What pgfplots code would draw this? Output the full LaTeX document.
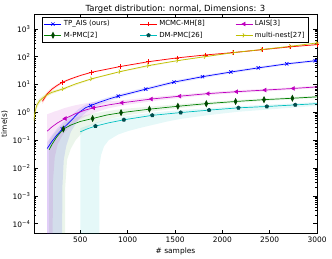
\documentclass[border=0pt]{standalone}
\usepackage{fontspec}
\setmainfont{DejaVu Sans}
\usepackage{pgfplots}
\pgfplotsset{compat=1.18}
\usepackage{pgfplotstable}
\usepgfplotslibrary{fillbetween}
\usetikzlibrary{plotmarks}
\definecolor{mplblue}{rgb}{0,0,1}
\definecolor{mplred}{rgb}{1,0,0}
\definecolor{mplmag}{rgb}{0.75,0,0.75}
\definecolor{mplgreen}{rgb}{0,0.5,0}
\definecolor{mplcyan}{rgb}{0,0.75,0.75}
\definecolor{mplyellow}{rgb}{0.75,0.75,0}

\pgfplotstableread{
x y
150 0.05
200 0.09
250 0.15
310 0.25
400 0.5
480 0.95
553 1.45
610 1.75
700 2.3
800 3.0
900 3.8
1050 5.1
1190 6.8
1490 12.2
1790 19
2090 28
2380 39.5
2680 55
2980 71
3000 72
}\tpline
\pgfplotstableread{
x lo hi
150 1e-7 0.085
200 1e-7 0.15
250 1e-7 0.25
305 1e-7 0.4
310 0.002 0.42
325 0.02 0.46
350 0.06 0.55
400 0.2 0.75
480 0.55 1.3
553 0.95 1.85
610 1.3 2.15
700 1.85 2.75
800 2.5 3.5
900 3.25 4.4
1050 4.5 6.0
1190 5.9 7.8
1490 10.7 13.8
1790 16.8 21.3
2090 25 31
2380 35.5 44
2680 50 60.5
3000 65 79
}\tpband

\pgfplotstableread{
x y
100 2.5
150 4.6
200 6.8
250 9.0
310 12
400 16
500 21
620 27.5
920 44
1220 66
1520 90
1820 115
2120 140
2420 178
2720 225
3000 270
}\mhline
\pgfplotstableread{
x lo hi
100 2.0 3.2
150 3.9 5.5
200 6.0 7.8
310 11 13.2
500 19.8 22.3
620 26.2 28.9
920 42 46
1520 86 94
2120 134 146
2720 215 235
3000 258 282
}\mhband

\pgfplotstableread{
x y
150 0.21
200 0.3
260 0.42
340 0.6
450 0.9
550 1.2
640 1.45
800 1.85
940 2.2
1250 3.0
1550 3.8
1850 4.7
2150 5.5
2450 6.3
2750 7.2
3000 8.2
}\laisline
\pgfplotstableread{
x lo hi
150 1e-7 0.85
205 1e-7 1.0
210 0.003 1.02
230 0.025 1.08
260 0.07 1.15
300 0.13 1.3
340 0.2 1.45
450 0.45 1.8
550 0.7 2.1
640 0.95 2.35
800 1.4 2.5
940 1.75 2.7
1250 2.5 3.5
1550 3.3 4.35
1850 4.15 5.3
2150 4.9 6.2
2450 5.6 7.0
2750 6.5 8.0
3000 7.4 9.1
}\laisband

\pgfplotstableread{
x y
170 0.045
200 0.07
250 0.13
320 0.25
400 0.35
500 0.47
630 0.6
780 0.8
930 0.97
1230 1.3
1530 1.65
1830 2.05
2140 2.45
2440 2.85
2740 3.2
3000 3.6
}\mpline
\pgfplotstableread{
x lo hi
170 1e-7 0.09
200 1e-7 0.13
250 1e-7 0.22
335 1e-7 0.4
340 0.002 0.42
360 0.02 0.47
400 0.05 0.55
450 0.1 0.65
553 0.25 0.8
630 0.36 0.9
780 0.55 1.1
930 0.72 1.3
1230 1.05 1.6
1530 1.4 1.95
1830 1.8 2.35
2140 2.2 2.75
2440 2.55 3.2
2740 2.9 3.55
3000 3.3 3.95
}\mpband

\pgfplotstableread{
x y
500 0.2
580 0.26
660 0.32
800 0.42
960 0.54
1260 0.78
1560 0.98
1860 1.2
2170 1.45
2470 1.62
2770 1.85
3000 2.05
}\dmline
\pgfplotstableread{
x lo hi
500 1e-7 0.27
660 1e-7 0.42
698 1e-7 0.46
702 0.012 0.46
720 0.03 0.48
750 0.06 0.51
800 0.1 0.56
900 0.16 0.65
1000 0.21 0.73
1120 0.27 0.84
1260 0.35 0.97
1420 0.47 1.1
1560 0.58 1.2
1860 0.8 1.42
2170 1.05 1.68
2470 1.25 1.88
2770 1.5 2.12
3000 1.7 2.35
}\dmband

\pgfplotstableread{
x y
10 0.5
20 1.0
40 1.8
70 2.6
100 3.2
150 4.3
200 5.2
320 7.0
450 10.5
620 16
920 29
1220 48
1530 72
1820 100
2120 140
2420 180
2720 235
3000 310
}\mnline
\pgfplotstableread{
x lo hi
10 0.3 0.8
20 0.7 1.4
40 1.4 2.3
70 2.1 3.2
100 2.7 3.8
150 3.7 5.0
200 4.6 5.9
320 6.4 7.7
620 15 17
920 27.5 30.5
1530 69 75
2120 134 146
2720 225 245
3000 297 323
}\mnband

\begin{document}
\begin{tikzpicture}
\begin{axis}[
  width=283.5bp, height=220bp, scale only axis,
  xmin=10, xmax=3000,
  ymode=log, ymin=4.4e-5, ymax=3400,
  xtick={500,1000,1500,2000,2500,3000},
  ytick={1e-4,1e-3,1e-2,1e-1,1,10,100,1000},
  yticklabels={10\textsuperscript{−4},10\textsuperscript{−3},10\textsuperscript{−2},10\textsuperscript{−1},10\textsuperscript{0},10\textsuperscript{1},10\textsuperscript{2},10\textsuperscript{3}},
  /pgf/number format/assume math mode=true,
  /pgf/number format/1000 sep={},
  tick align=inside,
  major tick length=4bp, minor tick length=2bp,
  tick style={black, line width=0.5pt},
  tick label style={font=\fontsize{7.5}{9}\selectfont},
  every axis title shift=0pt,
  title={Target distribution: normal, Dimensions: 3},
  title style={font=\fontsize{8.5}{10}\selectfont, at={(0.5,1)}, anchor=base, yshift=2.5bp},
  xlabel={\# samples},
  ylabel={time(s)},
  label style={font=\fontsize{7.5}{9}\selectfont},
  xlabel style={yshift=1.5bp},
  ylabel style={yshift=-2bp},
  axis line style={black, line width=0.7pt},
  legend columns=3,
  legend cell align=left,
  legend style={at={(0.5,0.987)}, anchor=north, draw=black, line width=0.6pt,
    font=\fontsize{7}{8.5}\selectfont, inner sep=1.5bp, row sep=0.5bp,
    /tikz/every odd column/.append style={column sep=0bp}},
  legend image post style={mark indices={2}},
]
% bands
\addplot[draw=none, name path=tpl, forget plot] table[x=x,y=lo]{\tpband};
\addplot[draw=none, name path=tph, forget plot] table[x=x,y=hi]{\tpband};
\addplot[fill=mplblue, fill opacity=0.1, draw=none, forget plot] fill between[of=tpl and tph];
\addplot[draw=none, name path=mhl, forget plot] table[x=x,y=lo]{\mhband};
\addplot[draw=none, name path=mhh, forget plot] table[x=x,y=hi]{\mhband};
\addplot[fill=mplred, fill opacity=0.12, draw=none, forget plot] fill between[of=mhl and mhh];
\addplot[draw=none, name path=lal, forget plot] table[x=x,y=lo]{\laisband};
\addplot[draw=none, name path=lah, forget plot] table[x=x,y=hi]{\laisband};
\addplot[fill=mplmag, fill opacity=0.1, draw=none, forget plot] fill between[of=lal and lah];
\addplot[draw=none, name path=mpl, forget plot] table[x=x,y=lo]{\mpband};
\addplot[draw=none, name path=mph, forget plot] table[x=x,y=hi]{\mpband};
\addplot[fill=mplgreen, fill opacity=0.08, draw=none, forget plot] fill between[of=mpl and mph];
\addplot[draw=none, name path=dml, forget plot] table[x=x,y=lo]{\dmband};
\addplot[draw=none, name path=dmh, forget plot] table[x=x,y=hi]{\dmband};
\addplot[fill=mplcyan, fill opacity=0.1, draw=none, forget plot] fill between[of=dml and dmh];
\addplot[draw=none, name path=mnl, forget plot] table[x=x,y=lo]{\mnband};
\addplot[draw=none, name path=mnh, forget plot] table[x=x,y=hi]{\mnband};
\addplot[fill=mplyellow, fill opacity=0.18, draw=none, forget plot] fill between[of=mnl and mnh];
% lines
\addplot[mplblue, line width=0.7pt, mark=x, mark size=2.3bp, mark indices={4,8,11,13,14,15,16,17,18,19}] table[x=x,y=y]{\tpline};
\addlegendentry{\makebox[74bp][l]{TP\_AIS (ours)}}
\addplot[mplred, line width=0.7pt, mark=+, mark size=2.3bp, mark indices={5,8,9,10,11,12,13,14,15,16}] table[x=x,y=y]{\mhline};
\addlegendentry{\makebox[74bp][l]{MCMC-MH[8]}}
\addplot[mplmag, line width=0.7pt, mark=triangle*, mark size=2bp, mark options={rotate=90}, mark indices={4,7,9,10,11,12,13,14,15}] table[x=x,y=y]{\laisline};
\addlegendentry{\makebox[50bp][l]{LAIS[3]}}
\addplot[mplgreen, line width=0.7pt, mark=diamond*, mark size=2.4bp, mark options={fill=mplgreen!55!black, draw=mplgreen!55!black, xscale=0.8, yscale=1.2}, mark indices={4,7,9,10,11,12,13,14,15}] table[x=x,y=y]{\mpline};
\addlegendentry{\makebox[74bp][l]{M-PMC[2]}}
\addplot[mplcyan, line width=0.7pt, mark=pentagon*, mark size=1.8bp, mark options={fill=mplcyan!40!black, draw=mplcyan!40!black}, mark indices={3,5,6,7,8,9,10,11}] table[x=x,y=y]{\dmline};
\addlegendentry{\makebox[74bp][l]{DM-PMC[26]}}
\addplot[mplyellow, line width=0.7pt, mark=Mercedes star, mark size=2.4bp, mark options={rotate=-90}, mark indices={8,10,11,12,13,14,15,16,17,18}] table[x=x,y=y]{\mnline};
\addlegendentry{\makebox[50bp][l]{multi-nest[27]}}
\end{axis}
\pgfresetboundingbox
\path[use as bounding box] ([xshift=-34bp,yshift=-25bp]current axis.south west) rectangle ([xshift=15bp,yshift=14bp]current axis.north east);
\end{tikzpicture}
\end{document}
